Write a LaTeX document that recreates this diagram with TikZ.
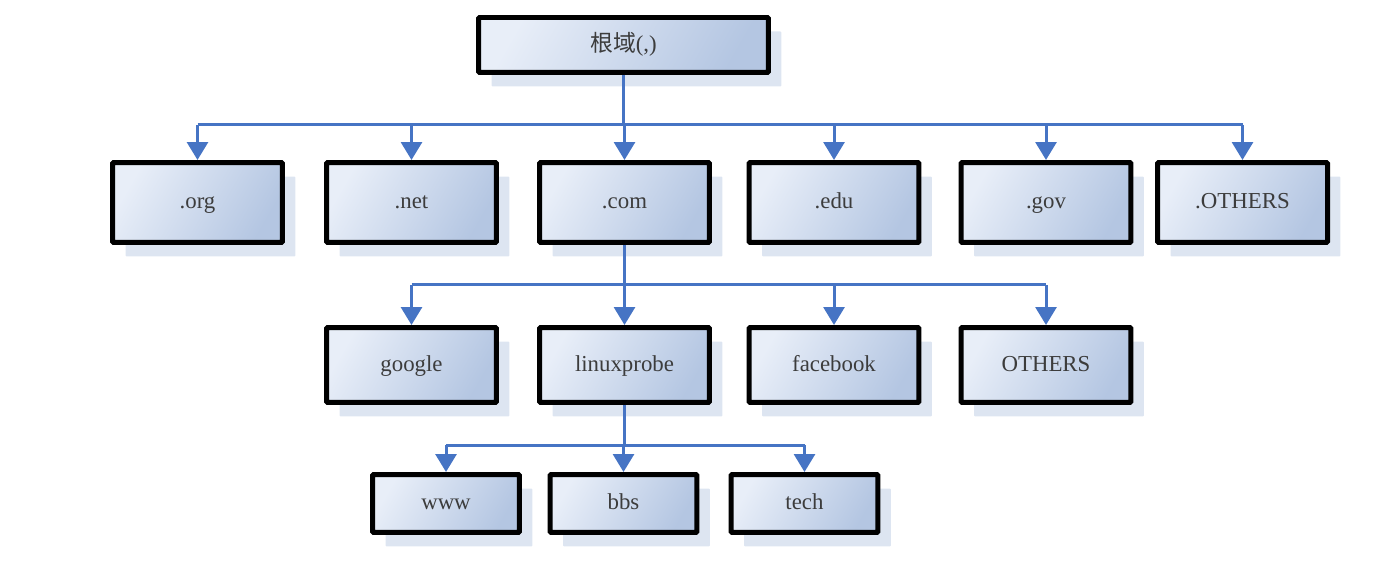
\documentclass[tikz,border=0pt]{standalone}
\usepackage{fontspec}
\setmainfont{Liberation Serif}
\newfontfamily\cjkfont{Noto Sans CJK SC}
\usetikzlibrary{shadows,arrows.meta}
\definecolor{boxlight}{RGB}{232,238,248}
\definecolor{boxdark}{RGB}{180,198,226}
\definecolor{shadowblue}{RGB}{221,229,241}
\definecolor{linkblue}{RGB}{70,116,196}
\definecolor{textgray}{RGB}{60,60,60}
\begin{document}
\begin{tikzpicture}[x=0.02cm,y=-0.02cm,
        main node/.style={rectangle,draw=black,line width=0.1cm,rounded corners=0.6pt,
            shading=axis,left color=boxlight,right color=boxdark,shading angle=60,
            drop shadow={shadow xshift=0.26cm,shadow yshift=-0.28cm,fill=shadowblue,opacity=1},
            text=textgray,font=\fontsize{13}{15}\selectfont,
            text height=1.8ex,text depth=0.2ex,
            minimum width=3.4cm,minimum height=1.6cm,inner sep=0pt},
        low node/.style={main node,minimum height=1.5cm},
        leaf node/.style={main node,minimum width=2.94cm,minimum height=1.16cm},
        link/.style={draw=linkblue,line width=0.06cm},
        arrow/.style={link,-{Triangle[length=0.36cm,width=0.42cm]}}]
    \useasboundingbox (0,0) rectangle (1399,577);

    \node[main node,minimum width=5.8cm,minimum height=1.1cm] at (623.5, 45) (root) {\cjkfont 根域\rmfamily(,)};

    \node[main node] at (197.5, 202.5) (org) {.org};
    \node[main node] at (411.5, 202.5) (net) {.net};
    \node[main node] at (624.5, 202.5) (com) {.com};
    \node[main node] at (834, 202.5) (edu) {.edu};
    \node[main node] at (1046, 202.5) (gov) {.gov};
    \node[main node] at (1242.5, 202.5) (others) {.OTHERS};

    \node[low node] at (411.5, 365) (google) {google};
    \node[low node] at (624.5, 365) (linuxprobe) {linuxprobe};
    \node[low node] at (834, 365) (facebook) {facebook};
    \node[low node] at (1046, 365) (OTHERS) {OTHERS};

    \node[leaf node] at (446, 503.5) (www) {www};
    \node[leaf node] at (623.5, 503.5) (bbs) {bbs};
    \node[leaf node] at (804.5, 503.5) (tech) {tech};

    \coordinate (bus1) at (623.5, 125);
    \coordinate (bus2) at (624.5, 285);
    \coordinate (bus3) at (624.5, 445);

    \draw[link] (root.south) -- (bus1);
    \draw[link] (bus1 -| org) -- (bus1 -| others);
    \foreach \n in {org,net,com,edu,gov,others}
        \draw[arrow] (bus1 -| \n) -- (\n.north);

    \draw[link] (com.south) -- (bus2);
    \draw[link] (bus2 -| google) -- (bus2 -| OTHERS);
    \foreach \n in {google,linuxprobe,facebook,OTHERS}
        \draw[arrow] (bus2 -| \n) -- (\n.north);

    \draw[link] (linuxprobe.south) -- (bus3);
    \draw[link] (bus3 -| www) -- (bus3 -| tech);
    \foreach \n in {www,bbs,tech}
        \draw[arrow] (bus3 -| \n) -- (\n.north);
\end{tikzpicture}
\end{document}
